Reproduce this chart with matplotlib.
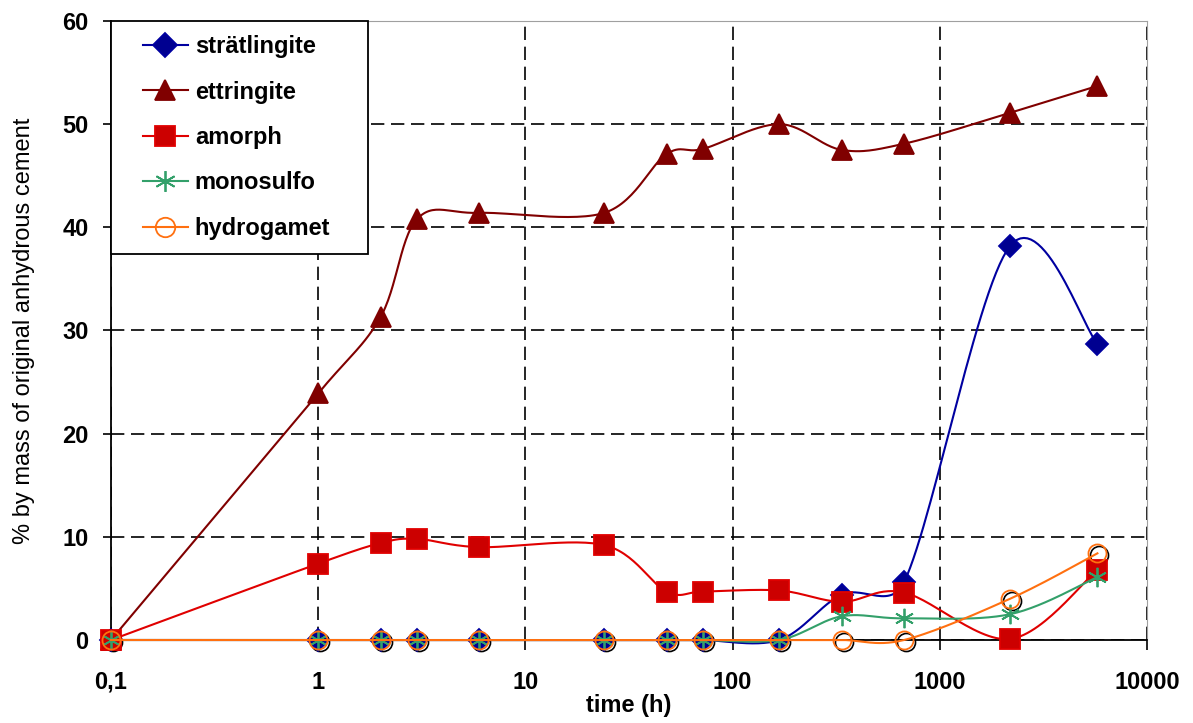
import matplotlib.pyplot as plt
from matplotlib import rcParams as rc
from matplotlib.ticker import FixedLocator, FuncFormatter, NullLocator
from matplotlib.legend_handler import HandlerLine2D
from matplotlib.lines import Line2D
import matplotlib.transforms as mtransforms
import numpy as np


time_h = [0.1, 1, 2, 3, 6, 24, 48, 72, 168, 336, 672, 2184, 5760]

stratlingite = [0, 0, 0, 0, 0, 0, 0, 0, 0, 4.4, 5.6, 38.2, 28.7]
ettringite   = [0, 23.9, 31.3, 40.8, 41.4, 41.4, 47.1, 47.6, 50.0, 47.5, 48.1, 51.1, 53.7]
amorph       = [0, 7.4, 9.4, 9.8, 9.0, 9.2, 4.7, 4.7, 4.8, 3.7, 4.6, 0.1, 6.8]
monosulfo    = [0, 0, 0, 0, 0, 0, 0, 0, 0, 2.3, 2.1, 2.5, 6.1]
hydrogarnet  = [0, 0, 0, 0, 0, 0, 0, 0, 0, 0, 0, 4.0, 8.4]

x_ticks = [0.1, 1, 10, 100, 1000, 10000]
y_ticks = [0, 10, 20, 30, 40, 50, 60]

W, H = 1193, 723
AX = [0.093, 0.1148, 0.8685, 0.8562]
px_decade = AX[2] * W / 5.0
px_unit = AX[3] * H / 60.0


def smooth(x, y, n=30):
    # Excel-like smoothed line: bezier, arms from neighbours, capped per segment
    u = np.log10(np.asarray(x, float)) * px_decade
    v = np.asarray(y, float) * px_unit
    P = np.column_stack([u, v])
    out = [P[0]]
    t = np.linspace(0, 1, n)[1:, None]
    for i in range(len(P) - 1):
        p0 = P[i - 1] if i > 0 else P[i]
        p3 = P[i + 2] if i + 2 < len(P) else P[i + 1]
        chord = np.linalg.norm(P[i + 1] - P[i])
        a1 = (P[i + 1] - p0) / 6
        a2 = (p3 - P[i]) / 6
        for a in (a1, a2):
            L = np.linalg.norm(a)
            if L > 0.5 * chord:
                a *= 0.5 * chord / L
        c1 = P[i] + a1
        c2 = P[i + 1] - a2
        seg = ((1 - t) ** 3) * P[i] + 3 * ((1 - t) ** 2) * t * c1 \
            + 3 * (1 - t) * t ** 2 * c2 + t ** 3 * P[i + 1]
        out.extend(seg)
    out = np.array(out)
    return 10 ** (out[:, 0] / px_decade), out[:, 1] / px_unit


rc['font.family'] = ['Liberation Sans', 'DejaVu Sans']
rc['font.size'] = 12

fig = plt.figure(figsize=(W / 100, H / 100), dpi=100)
ax = fig.add_axes(AX)
ax.set_xscale('log')

series = [
    ('strätlingite', stratlingite, '#0000a0', 'D', 11, '#000090'),
    ('ettringite', ettringite, '#800000', '^', 14, '#800000'),
    ('amorph', amorph, '#e00000', 's', 14, '#cc0000'),
    ('monosulfo', monosulfo, '#33a06a', (6, 2, 0), 14, '#33a06a'),
    ('hydrogamet', hydrogarnet, '#ff7010', 'o', 13, 'none'),
]

# black circle series sitting just behind the orange circles
off = mtransforms.ScaledTranslation(2 / 100, -2 / 100, fig.dpi_scale_trans)
ax.plot(time_h, hydrogarnet, ls='none', marker='o', ms=13, mfc='none',
        mec='black', mew=1.2, transform=ax.transData + off, clip_on=False, zorder=2)

handles = []
for i, (name, vals, col, mk, ms, fc) in enumerate(series):
    sx, sy = smooth(time_h, vals)
    ax.plot(sx, sy, color=col, lw=1.5, clip_on=False, zorder=3 + i)
    ax.plot(time_h, vals, ls='none', marker=mk, ms=ms, mfc=fc, mec=col, mew=1.3,
            clip_on=False, zorder=3 + i)
    h, = ax.plot([], [], color=col, lw=1.5, marker=mk, ms=ms + 1, mfc=fc, mec=col, mew=1.3)
    handles.append(h)

leg = ax.legend(handles, [s[0] for s in series], loc='upper left',
                bbox_to_anchor=(0.0, 0.0, 0.248, 1.0), mode='expand',
                frameon=True, fancybox=False, edgecolor='black', framealpha=1,
                handlelength=2.65, handletextpad=0.3, labelspacing=0.95,
                borderpad=0.6, borderaxespad=0,
                handler_map={Line2D: HandlerLine2D(xpad=0.75)},
                prop={'weight': 'bold', 'size': 17})
leg.get_frame().set_linewidth(1.3)
leg.set_zorder(10)

ax.set_xlim(0.1, 10000)
ax.set_ylim(0, 60)
ax.xaxis.set_major_locator(FixedLocator(x_ticks))
ax.xaxis.set_minor_locator(NullLocator())
ax.xaxis.set_major_formatter(FuncFormatter(lambda v, p: ('%g' % v).replace('.', ',')))
ax.yaxis.set_major_locator(FixedLocator(y_ticks))
ax.grid(True, color='black', ls=(0, (8, 4)), lw=1.2)
ax.set_axisbelow(True)

for s in ('top', 'right'):
    ax.spines[s].set_color('#a0a0a0')
for s in ('left', 'bottom'):
    ax.spines[s].set_linewidth(1.3)
ax.tick_params(axis='x', direction='out', length=7, width=1.2, labelsize=17, pad=15)
ax.tick_params(axis='y', direction='out', length=6, width=1.2, labelsize=17, pad=10)
for lab in ax.get_xticklabels() + ax.get_yticklabels():
    lab.set_fontweight('bold')

ax.set_xlabel('time (h)', fontsize=17, fontweight='bold', labelpad=0)
ax.set_ylabel('% by mass of original anhydrous cement', fontsize=17, labelpad=20)

fig.savefig('out.png', dpi=100)
